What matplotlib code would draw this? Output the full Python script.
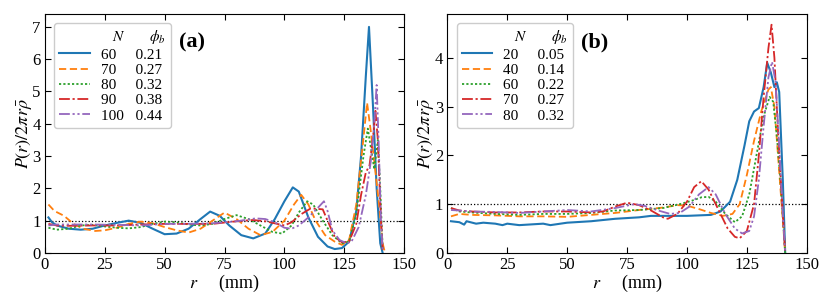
import matplotlib
matplotlib.use("Agg")
import matplotlib.pyplot as plt
from matplotlib.lines import Line2D

plt.rcParams['font.family'] = ['Liberation Serif', 'DejaVu Serif']
plt.rcParams['mathtext.fontset'] = 'stix'

# ---------------- panel (a) ----------------
a_N = ["60", "70", "80", "90", "100"]
a_phi = ["0.21", "0.27", "0.32", "0.38", "0.44"]

a60_r = [1.5, 3, 5, 10, 15, 20, 25, 30, 35, 40, 45, 50, 55, 60, 65, 69, 73, 77, 82, 87, 92, 96, 100, 103.5, 106, 110, 114, 118, 121, 124, 127, 130, 132, 134, 135.3, 137, 138.5, 140, 141]
a60_v = [1.1, 0.95, 0.85, 0.75, 0.72, 0.75, 0.85, 0.93, 1.0, 0.93, 0.75, 0.58, 0.6, 0.75, 1.05, 1.28, 1.15, 0.85, 0.55, 0.45, 0.6, 1.05, 1.6, 2.03, 1.9, 1.1, 0.5, 0.2, 0.12, 0.15, 0.35, 1.3, 3.0, 5.5, 7.0, 4.5, 2.0, 0.3, 0.0]

a70_r = [1.5, 4, 8, 12, 16, 21, 25, 30, 35, 40, 45, 50, 55, 60, 65, 70, 75, 80, 85, 90, 95, 100, 104, 107, 110, 113, 117, 121, 124, 127, 130, 132.5, 134.5, 136, 138, 139.5, 141, 142]
a70_v = [1.5, 1.3, 1.15, 0.9, 0.75, 0.68, 0.7, 0.78, 0.9, 0.97, 0.92, 0.8, 0.7, 0.63, 0.75, 1.0, 1.25, 1.05, 0.75, 0.55, 0.65, 1.0, 1.5, 1.8, 1.5, 1.0, 0.55, 0.35, 0.25, 0.4, 1.5, 3.2, 4.65, 3.8, 2.5, 1.5, 0.3, 0.0]

a80_r = [1.5, 5, 10, 15, 20, 25, 30, 35, 40, 45, 50, 55, 60, 65, 70, 75, 80, 85, 90, 95, 99, 103, 106, 109.5, 112, 116, 120, 124, 127, 130, 133, 134.8, 136, 137.5, 139, 140, 141]
a80_v = [0.78, 0.72, 0.75, 0.85, 0.87, 0.82, 0.78, 0.76, 0.8, 0.9, 0.97, 0.95, 0.88, 0.85, 0.9, 1.05, 1.17, 1.05, 0.85, 0.65, 0.6, 0.85, 1.25, 1.6, 1.5, 1.0, 0.55, 0.3, 0.35, 1.2, 3.0, 3.85, 3.3, 2.6, 3.5, 2.0, 0.1]

a90_r = [1.5, 5, 10, 20, 30, 40, 50, 60, 70, 80, 87, 92, 97, 100, 103, 107, 111, 116, 118, 121, 124, 127, 130, 132, 134, 135.5, 137, 138, 139, 140, 141]
a90_v = [0.9, 0.85, 0.84, 0.85, 0.85, 0.88, 0.9, 0.9, 0.9, 0.98, 1.02, 0.98, 0.9, 0.85, 0.95, 1.2, 1.38, 1.35, 1.0, 0.5, 0.33, 0.35, 0.9, 1.8, 2.5, 2.7, 3.6, 4.4, 3.5, 1.5, 0.1]

a100_r = [1.5, 5, 10, 20, 30, 40, 50, 60, 70, 80, 88, 92, 96, 100, 103, 106, 110, 114, 116.5, 118, 120, 123, 126, 128, 131, 134, 136, 137.5, 138.5, 139.3, 140.3, 141]
a100_v = [0.85, 0.88, 0.88, 0.88, 0.87, 0.85, 0.9, 0.9, 0.92, 0.98, 1.07, 1.05, 0.95, 0.78, 0.75, 0.85, 1.1, 1.4, 1.6, 1.3, 0.7, 0.4, 0.3, 0.35, 0.8, 1.8, 2.8, 4.0, 5.2, 3.5, 1.0, 0.1]

# ---------------- panel (b) ----------------
b_N = ["20", "40", "60", "70", "80"]
b_phi = ["0.05", "0.14", "0.22", "0.27", "0.32"]

b20_r = [1.5, 5, 7, 8, 12, 15, 20, 23, 25, 30, 40, 43, 50, 60, 70, 80, 85, 90, 100, 110, 114, 118, 121, 124, 126, 128, 130, 132, 133.5, 135, 136.5, 137.5, 138.5, 140, 141]
b20_v = [0.65, 0.63, 0.58, 0.65, 0.6, 0.62, 0.6, 0.57, 0.6, 0.57, 0.6, 0.57, 0.62, 0.65, 0.7, 0.73, 0.76, 0.76, 0.76, 0.78, 0.85, 1.05, 1.5, 2.2, 2.7, 2.9, 2.97, 3.4, 3.9, 3.7, 3.4, 3.5, 3.3, 1.5, 0.0]

b40_r = [1.5, 5, 10, 20, 30, 40, 50, 60, 70, 80, 90, 96, 100, 105, 110, 115, 119, 122, 125, 128, 131, 134, 135, 136.5, 138, 139.5, 141]
b40_v = [0.75, 0.8, 0.78, 0.77, 0.75, 0.75, 0.74, 0.78, 0.82, 0.88, 0.93, 0.98, 0.97, 0.9, 0.82, 0.76, 0.8, 1.0, 1.6, 2.3, 2.9, 3.35, 3.4, 3.0, 2.0, 1.0, 0.0]

b60_r = [1.5, 5, 10, 20, 30, 40, 50, 60, 70, 80, 90, 97, 102, 106, 109, 112, 116, 120, 123, 126, 129, 132, 134.5, 136, 137.5, 139, 141]
b60_v = [0.92, 0.85, 0.83, 0.8, 0.78, 0.8, 0.8, 0.82, 0.87, 0.88, 0.92, 1.0, 1.07, 1.14, 1.15, 1.05, 0.8, 0.63, 0.75, 1.2, 2.0, 2.8, 3.2, 3.1, 2.4, 1.5, 0.0]

b70_r = [1.5, 5, 10, 20, 30, 40, 50, 60, 65, 70, 75, 80, 85, 90, 92, 96, 100, 103, 106, 109, 113, 117, 120, 122, 125, 128, 130, 132, 134, 135.3, 136.5, 138, 139.5, 141]
b70_v = [0.92, 0.87, 0.85, 0.83, 0.83, 0.85, 0.85, 0.83, 0.85, 0.95, 1.03, 0.98, 0.87, 0.73, 0.7, 0.8, 1.05, 1.35, 1.47, 1.3, 0.9, 0.5, 0.33, 0.3, 0.45, 1.0, 2.0, 3.2, 4.2, 4.68, 4.0, 2.5, 1.2, 0.0]

b80_r = [1.5, 5, 10, 20, 30, 40, 50, 60, 70, 78, 82, 88, 93, 97, 101, 105, 109, 112, 116, 120, 123, 126, 128, 130, 132, 134, 135.5, 137, 138.5, 140, 141]
b80_v = [0.88, 0.87, 0.85, 0.84, 0.82, 0.85, 0.88, 0.85, 0.92, 1.0, 0.97, 0.87, 0.8, 0.82, 0.95, 1.2, 1.35, 1.2, 0.8, 0.5, 0.4, 0.45, 0.75, 1.5, 2.6, 3.6, 3.92, 3.5, 2.2, 0.8, 0.0]

colors = ['#1f77b4', '#ff7f0e', '#2ca02c', '#d62728', '#9467bd']
styles = ['-', (0, (4, 2)), (0, (1.2, 1.2)), (0, (6, 1.5, 1.2, 1.5)), (0, (6, 1.5, 1.2, 1.5, 1.2, 1.5))]
widths = [1.5, 1.3, 1.3, 1.3, 1.3]

fig = plt.figure(figsize=(8.3, 3.04), dpi=100)
ax1 = fig.add_axes([0.054, 0.168, 0.433, 0.786])
ax2 = fig.add_axes([0.539, 0.168, 0.433, 0.786])

panels = [
    (ax1, [(a60_r, a60_v), (a70_r, a70_v), (a80_r, a80_v), (a90_r, a90_v), (a100_r, a100_v)], a_N, a_phi, 7.4, [0, 1, 2, 3, 4, 5, 6, 7], "(a)"),
    (ax2, [(b20_r, b20_v), (b40_r, b40_v), (b60_r, b60_v), (b70_r, b70_v), (b80_r, b80_v)], b_N, b_phi, 4.9, [0, 1, 2, 3, 4], "(b)"),
]

for ax, series, Ns, phis, ytop, yticks, tag in panels:
    ax.axhline(1.0, color='k', ls=':', lw=0.9, zorder=1)
    handles = [Line2D([], [], ls='none', marker=None)]
    labels = ["   $N$       $\\phi_b$"]
    for (r, v), c, s, w, n, p in zip(series, colors, styles, widths, Ns, phis):
        ln, = ax.plot(r, v, color=c, ls=s, lw=w, zorder=3)
        handles.append(ln)
        nlab = n if len(n) == 3 else n + "\u2007"
        labels.append(f"{nlab}   {p}")
    ax.set_xlim(0, 150)
    ax.set_ylim(0, ytop)
    ax.set_xticks([0, 25, 50, 75, 100, 125, 150])
    ax.set_yticks(yticks)
    ax.tick_params(direction='in', top=True, right=True, labelsize=12, length=4, width=0.8, pad=3)
    ax.set_xlabel("$r$     (mm)", fontsize=13, labelpad=0)
    ax.set_ylabel("$P(r)/2\\pi r\\bar{\\rho}$", fontsize=13, labelpad=-1)
    ax.text(0.41, 0.88, tag, transform=ax.transAxes, fontsize=16, fontweight='bold', ha='center', va='center')
    leg = ax.legend(handles, labels, loc='upper left', fontsize=11, handlelength=2.0,
                    borderpad=0.35, labelspacing=0.1, handletextpad=0.7, borderaxespad=0.6,
                    framealpha=1, edgecolor='#cccccc')

fig.savefig("out.png", dpi=100)
